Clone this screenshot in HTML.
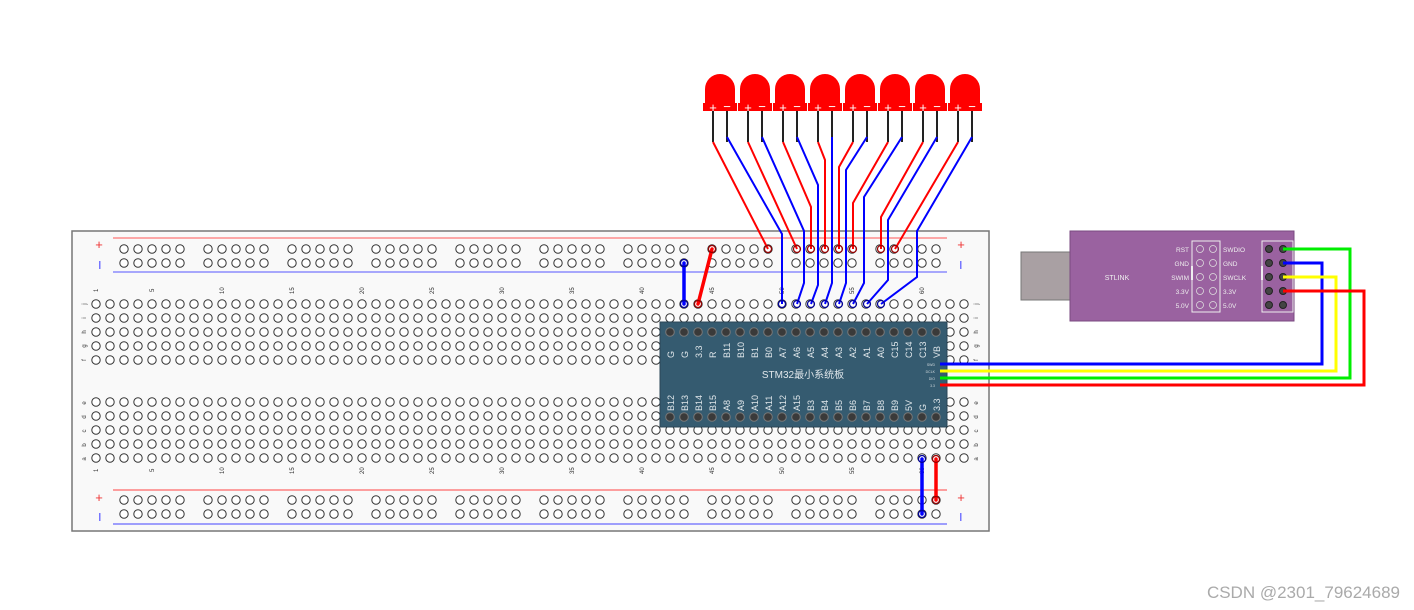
<!DOCTYPE html>
<html><head><meta charset="utf-8"><style>
html,body{margin:0;padding:0;background:#fff;}
svg{display:block;}
text{font-family:"Liberation Sans","Noto Sans CJK SC",sans-serif;}
</style></head><body>
<svg width="1414" height="610" viewBox="0 0 1414 610" xmlns="http://www.w3.org/2000/svg">
<defs>
<pattern id="pm" patternUnits="userSpaceOnUse" x="89" y="297" width="14" height="14"><circle cx="7" cy="7" r="4.2" fill="#fff" stroke="#333" stroke-width="1"/></pattern>
<pattern id="pr1" patternUnits="userSpaceOnUse" x="117" y="242" width="14" height="14"><circle cx="7" cy="7" r="4.2" fill="#fff" stroke="#333" stroke-width="1"/></pattern>
<pattern id="pr2" patternUnits="userSpaceOnUse" x="117" y="493" width="14" height="14"><circle cx="7" cy="7" r="4.2" fill="#fff" stroke="#333" stroke-width="1"/></pattern>
<pattern id="pb" patternUnits="userSpaceOnUse" x="663" y="325" width="14" height="14"><circle cx="7" cy="7" r="4.3" fill="#3a3a3a" stroke="#777" stroke-width="1"/></pattern>
<pattern id="pb2" patternUnits="userSpaceOnUse" x="663" y="410" width="14" height="14"><circle cx="7" cy="7" r="4.3" fill="#3a3a3a" stroke="#777" stroke-width="1"/></pattern>
<g id="led">
<path d="M-15,105 L-15,89 A15,15 0 0 1 15,89 L15,105 Z" fill="#f00"/>
<rect x="-17" y="103" width="34" height="8" fill="#f00"/>
<line x1="-7" y1="111" x2="-7" y2="142" stroke="#222" stroke-width="2"/>
<line x1="7" y1="111" x2="7" y2="142" stroke="#222" stroke-width="2"/>
<text x="-7" y="112" font-size="13" fill="#fff" text-anchor="middle">+</text>
<text x="7" y="111" font-size="13" fill="#fff" text-anchor="middle">−</text>
</g>
</defs>

<!-- breadboard -->
<rect x="72" y="231" width="917" height="300" fill="#f9f9f9" stroke="#777" stroke-width="1.5"/>
<line x1="113" y1="238" x2="947" y2="238" stroke="#f55" stroke-width="1"/>
<line x1="113" y1="272" x2="947" y2="272" stroke="#55f" stroke-width="1"/>
<line x1="113" y1="490" x2="947" y2="490" stroke="#f44" stroke-width="1"/>
<line x1="113" y1="524" x2="947" y2="524" stroke="#44f" stroke-width="1"/>
<text x="99" y="249" font-size="13" fill="#e33" text-anchor="middle">+</text>
<text x="961" y="249" font-size="13" fill="#e33" text-anchor="middle">+</text>
<text x="99" y="502" font-size="13" fill="#e33" text-anchor="middle">+</text>
<text x="961" y="502" font-size="13" fill="#e33" text-anchor="middle">+</text>
<rect x="99" y="261" width="1.5" height="8" fill="#77f"/>
<rect x="960" y="261" width="1.5" height="8" fill="#77f"/>
<rect x="99" y="513" width="1.5" height="8" fill="#77f"/>
<rect x="960" y="513" width="1.5" height="8" fill="#77f"/>

<g fill="url(#pr1)">
<rect x="117" y="242" width="70" height="28"/><rect x="201" y="242" width="70" height="28"/><rect x="285" y="242" width="70" height="28"/><rect x="369" y="242" width="70" height="28"/><rect x="453" y="242" width="70" height="28"/><rect x="537" y="242" width="70" height="28"/><rect x="621" y="242" width="70" height="28"/><rect x="705" y="242" width="70" height="28"/><rect x="789" y="242" width="70" height="28"/><rect x="873" y="242" width="70" height="28"/>
</g>
<g fill="url(#pr2)">
<rect x="117" y="493" width="70" height="28"/><rect x="201" y="493" width="70" height="28"/><rect x="285" y="493" width="70" height="28"/><rect x="369" y="493" width="70" height="28"/><rect x="453" y="493" width="70" height="28"/><rect x="537" y="493" width="70" height="28"/><rect x="621" y="493" width="70" height="28"/><rect x="705" y="493" width="70" height="28"/><rect x="789" y="493" width="70" height="28"/><rect x="873" y="493" width="70" height="28"/>
</g>
<rect x="89" y="297" width="882" height="70" fill="url(#pm)"/>
<rect x="89" y="396" width="882" height="70" fill="url(#pm)"/>

<g font-size="6" fill="#333">
<text transform="translate(98,292) rotate(-90)">1</text>
<text transform="translate(154,292) rotate(-90)">5</text>
<text transform="translate(224,294) rotate(-90)">10</text>
<text transform="translate(294,294) rotate(-90)">15</text>
<text transform="translate(364,294) rotate(-90)">20</text>
<text transform="translate(434,294) rotate(-90)">25</text>
<text transform="translate(504,294) rotate(-90)">30</text>
<text transform="translate(574,294) rotate(-90)">35</text>
<text transform="translate(644,294) rotate(-90)">40</text>
<text transform="translate(714,294) rotate(-90)">45</text>
<text transform="translate(784,294) rotate(-90)">50</text>
<text transform="translate(854,294) rotate(-90)">55</text>
<text transform="translate(924,294) rotate(-90)">60</text>
<text transform="translate(98,472) rotate(-90)">1</text>
<text transform="translate(154,472) rotate(-90)">5</text>
<text transform="translate(224,474) rotate(-90)">10</text>
<text transform="translate(294,474) rotate(-90)">15</text>
<text transform="translate(364,474) rotate(-90)">20</text>
<text transform="translate(434,474) rotate(-90)">25</text>
<text transform="translate(504,474) rotate(-90)">30</text>
<text transform="translate(574,474) rotate(-90)">35</text>
<text transform="translate(644,474) rotate(-90)">40</text>
<text transform="translate(714,474) rotate(-90)">45</text>
<text transform="translate(784,474) rotate(-90)">50</text>
<text transform="translate(854,474) rotate(-90)">55</text>
<text transform="translate(924,474) rotate(-90)">60</text>
</g>
<g font-size="6" fill="#333" text-anchor="middle">
<text transform="translate(86,304) rotate(-90)">j</text><text transform="translate(86,318) rotate(-90)">i</text><text transform="translate(86,332) rotate(-90)">h</text><text transform="translate(86,346) rotate(-90)">g</text><text transform="translate(86,360) rotate(-90)">f</text>
<text transform="translate(86,403) rotate(-90)">e</text><text transform="translate(86,417) rotate(-90)">d</text><text transform="translate(86,431) rotate(-90)">c</text><text transform="translate(86,445) rotate(-90)">b</text><text transform="translate(86,459) rotate(-90)">a</text>
<text transform="translate(978,304) rotate(-90)">j</text><text transform="translate(978,318) rotate(-90)">i</text><text transform="translate(978,332) rotate(-90)">h</text><text transform="translate(978,346) rotate(-90)">g</text><text transform="translate(978,360) rotate(-90)">f</text>
<text transform="translate(978,403) rotate(-90)">e</text><text transform="translate(978,417) rotate(-90)">d</text><text transform="translate(978,431) rotate(-90)">c</text><text transform="translate(978,445) rotate(-90)">b</text><text transform="translate(978,459) rotate(-90)">a</text>
</g>

<!-- STM32 board -->
<rect x="660" y="322" width="287" height="105" fill="#355b70" stroke="#2a4656" stroke-width="1"/>
<rect x="663" y="325" width="280" height="14" fill="url(#pb)"/>
<rect x="663" y="410" width="280" height="14" fill="url(#pb2)"/>
<g font-size="9" fill="#dfe6ea">
<text transform="translate(674,358) rotate(-90)">G</text>
<text transform="translate(688,358) rotate(-90)">G</text>
<text transform="translate(702,358) rotate(-90)">3.3</text>
<text transform="translate(716,358) rotate(-90)">R</text>
<text transform="translate(730,358) rotate(-90)">B11</text>
<text transform="translate(744,358) rotate(-90)">B10</text>
<text transform="translate(758,358) rotate(-90)">B1</text>
<text transform="translate(772,358) rotate(-90)">B0</text>
<text transform="translate(786,358) rotate(-90)">A7</text>
<text transform="translate(800,358) rotate(-90)">A6</text>
<text transform="translate(814,358) rotate(-90)">A5</text>
<text transform="translate(828,358) rotate(-90)">A4</text>
<text transform="translate(842,358) rotate(-90)">A3</text>
<text transform="translate(856,358) rotate(-90)">A2</text>
<text transform="translate(870,358) rotate(-90)">A1</text>
<text transform="translate(884,358) rotate(-90)">A0</text>
<text transform="translate(898,358) rotate(-90)">C15</text>
<text transform="translate(912,358) rotate(-90)">C14</text>
<text transform="translate(926,358) rotate(-90)">C13</text>
<text transform="translate(940,358) rotate(-90)">VB</text>
<text transform="translate(674,411) rotate(-90)">B12</text>
<text transform="translate(688,411) rotate(-90)">B13</text>
<text transform="translate(702,411) rotate(-90)">B14</text>
<text transform="translate(716,411) rotate(-90)">B15</text>
<text transform="translate(730,411) rotate(-90)">A8</text>
<text transform="translate(744,411) rotate(-90)">A9</text>
<text transform="translate(758,411) rotate(-90)">A10</text>
<text transform="translate(772,411) rotate(-90)">A11</text>
<text transform="translate(786,411) rotate(-90)">A12</text>
<text transform="translate(800,411) rotate(-90)">A15</text>
<text transform="translate(814,411) rotate(-90)">B3</text>
<text transform="translate(828,411) rotate(-90)">B4</text>
<text transform="translate(842,411) rotate(-90)">B5</text>
<text transform="translate(856,411) rotate(-90)">B6</text>
<text transform="translate(870,411) rotate(-90)">B7</text>
<text transform="translate(884,411) rotate(-90)">B8</text>
<text transform="translate(898,411) rotate(-90)">B9</text>
<text transform="translate(912,411) rotate(-90)">5V</text>
<text transform="translate(926,411) rotate(-90)">G</text>
<text transform="translate(940,411) rotate(-90)">3.3</text>
</g>
<text x="803" y="378" font-size="10" fill="#dfe6ea" text-anchor="middle">STM32最小系统板</text>
<g font-size="3.5" fill="#cfd8dc" text-anchor="end">
<text x="935" y="366">SWD</text><text x="935" y="373">DCLK</text><text x="935" y="380">DIO</text><text x="935" y="387">3.3</text>
</g>

<!-- STLINK -->
<rect x="1021" y="252" width="49" height="48" fill="#a9a0a3" stroke="#777" stroke-width="1"/>
<rect x="1070" y="231" width="224" height="90" fill="#9a62a0" stroke="#7a4a80" stroke-width="1"/>
<text x="1117" y="280" font-size="7" fill="#eee" text-anchor="middle">STLINK</text>
<rect x="1192" y="241" width="28" height="71" fill="none" stroke="#eee" stroke-width="1"/>
<rect x="1191" y="266" width="2" height="14" fill="#eee"/>
<g font-size="6.5" fill="#eee">
<text x="1189" y="252" text-anchor="end">RST</text>
<text x="1189" y="266" text-anchor="end">GND</text>
<text x="1189" y="280" text-anchor="end">SWIM</text>
<text x="1189" y="294" text-anchor="end">3.3V</text>
<text x="1189" y="308" text-anchor="end">5.0V</text>
<text x="1223" y="252">SWDIO</text>
<text x="1223" y="266">GND</text>
<text x="1223" y="280">SWCLK</text>
<text x="1223" y="294">3.3V</text>
<text x="1223" y="308">5.0V</text>
</g>
<g fill="none" stroke="#ddd" stroke-width="0.8">
<circle cx="1200" cy="249" r="3.5"/><circle cx="1213" cy="249" r="3.5"/>
<circle cx="1200" cy="263" r="3.5"/><circle cx="1213" cy="263" r="3.5"/>
<circle cx="1200" cy="277" r="3.5"/><circle cx="1213" cy="277" r="3.5"/>
<circle cx="1200" cy="291" r="3.5"/><circle cx="1213" cy="291" r="3.5"/>
<circle cx="1200" cy="305" r="3.5"/><circle cx="1213" cy="305" r="3.5"/>
</g>
<rect x="1262" y="241" width="31" height="71" fill="none" stroke="#eee" stroke-width="1"/>
<rect x="1261" y="266" width="2" height="14" fill="#eee"/>
<g fill="#444" stroke="#222" stroke-width="1">
<circle cx="1269" cy="249" r="3.5"/><circle cx="1283" cy="249" r="3.5"/>
<circle cx="1269" cy="263" r="3.5"/><circle cx="1283" cy="263" r="3.5"/>
<circle cx="1269" cy="277" r="3.5"/><circle cx="1283" cy="277" r="3.5"/>
<circle cx="1269" cy="291" r="3.5"/><circle cx="1283" cy="291" r="3.5"/>
<circle cx="1269" cy="305" r="3.5"/><circle cx="1283" cy="305" r="3.5"/>
</g>

<!-- SWD wires -->
<g fill="none" stroke-width="3">
<polyline points="940,364 1322,364 1322,263 1283,263" stroke="#00f"/>
<polyline points="940,371 1336,371 1336,277 1283,277" stroke="#ff0"/>
<polyline points="940,378 1350,378 1350,249 1283,249" stroke="#0e0"/>
<polyline points="940,385 1364,385 1364,291 1283,291" stroke="#f00"/>
</g>

<!-- LEDs -->
<use href="#led" transform="translate(720,0)"/>
<use href="#led" transform="translate(755,0)"/>
<use href="#led" transform="translate(790,0)"/>
<use href="#led" transform="translate(825,0)"/>
<use href="#led" transform="translate(860,0)"/>
<use href="#led" transform="translate(895,0)"/>
<use href="#led" transform="translate(930,0)"/>
<use href="#led" transform="translate(965,0)"/>

<g fill="none" stroke-width="2">
<polyline points="713,142 768,249" stroke="#f00"/>
<polyline points="727,137 782,234 782,304" stroke="#00f"/>
<polyline points="748,142 797,249" stroke="#f00"/>
<polyline points="762,137 804,231 804,283 797,304" stroke="#00f"/>
<polyline points="783,142 811,207 811,249" stroke="#f00"/>
<polyline points="797,137 818,185 818,285 811,304" stroke="#00f"/>
<polyline points="818,142 825,160 825,249" stroke="#f00"/>
<polyline points="832,137 832,283 825,304" stroke="#00f"/>
<polyline points="853,142 839,167 839,249" stroke="#f00"/>
<polyline points="867,137 846,170 846,283 839,304" stroke="#00f"/>
<polyline points="888,142 853,203 853,249" stroke="#f00"/>
<polyline points="902,137 864,197 864,283 853,304" stroke="#00f"/>
<polyline points="923,142 881,217 881,249" stroke="#f00"/>
<polyline points="937,137 888,220 888,280 867,304" stroke="#00f"/>
<polyline points="958,142 895,249" stroke="#f00"/>
<polyline points="972,137 917,231 917,277 881,304" stroke="#00f"/>
</g>
<g fill="none" stroke-width="3.5" stroke-linecap="round">
<line x1="684" y1="263" x2="684" y2="304" stroke="#00f"/>
<line x1="712" y1="249" x2="698" y2="304" stroke="#f00"/>
<line x1="922" y1="459" x2="922" y2="514" stroke="#00f"/>
<line x1="936" y1="459" x2="936" y2="500" stroke="#f00"/>
</g>
<g fill="none" stroke-width="1.2">
<circle cx="768" cy="249" r="3.5" stroke="#900"/><circle cx="797" cy="249" r="3.5" stroke="#900"/><circle cx="811" cy="249" r="3.5" stroke="#900"/><circle cx="825" cy="249" r="3.5" stroke="#900"/><circle cx="839" cy="249" r="3.5" stroke="#900"/><circle cx="853" cy="249" r="3.5" stroke="#900"/><circle cx="881" cy="249" r="3.5" stroke="#900"/><circle cx="895" cy="249" r="3.5" stroke="#900"/><circle cx="712" cy="249" r="3.5" stroke="#900"/><circle cx="698" cy="304" r="3.5" stroke="#900"/><circle cx="936" cy="459" r="3.5" stroke="#900"/><circle cx="936" cy="500" r="3.5" stroke="#900"/>
<circle cx="782" cy="304" r="3.5" stroke="#009"/><circle cx="797" cy="304" r="3.5" stroke="#009"/><circle cx="811" cy="304" r="3.5" stroke="#009"/><circle cx="825" cy="304" r="3.5" stroke="#009"/><circle cx="839" cy="304" r="3.5" stroke="#009"/><circle cx="853" cy="304" r="3.5" stroke="#009"/><circle cx="867" cy="304" r="3.5" stroke="#009"/><circle cx="881" cy="304" r="3.5" stroke="#009"/><circle cx="684" cy="263" r="3.5" stroke="#009"/><circle cx="684" cy="304" r="3.5" stroke="#009"/><circle cx="922" cy="459" r="3.5" stroke="#009"/><circle cx="922" cy="514" r="3.5" stroke="#009"/>
</g>

<text x="1400" y="598" font-size="17" fill="#aaa" text-anchor="end">CSDN @2301_79624689</text>
</svg>
</body></html>
